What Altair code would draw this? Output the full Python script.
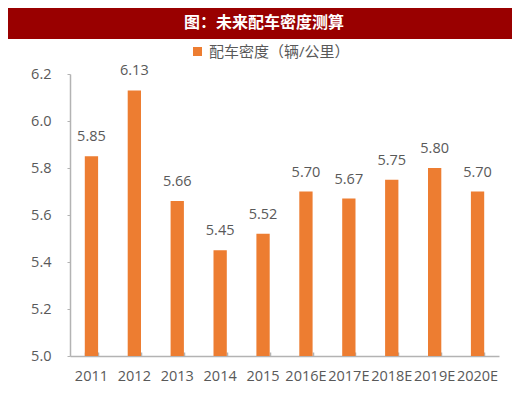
import altair as alt
import pandas as pd

years = ["2011", "2012", "2013", "2014", "2015", "2016E", "2017E", "2018E", "2019E", "2020E"]
values = [5.85, 6.13, 5.66, 5.45, 5.52, 5.70, 5.67, 5.75, 5.80, 5.70]
series_name = "配车密度（辆/公里）"
title_text = "图：未来配车密度测算"
y_ticks = [5.0, 5.2, 5.4, 5.6, 5.8, 6.0, 6.2]

df = pd.DataFrame({"year": years, "value": values, "series": [series_name] * len(years)})

FONT = "Open Sans, Noto Sans CJK SC"
BAR = "#ED7D31"
TXT = "#595959"
AX = "#b3b3b3"

xscale = alt.Scale(paddingInner=0.69, paddingOuter=0.345)
yscale = alt.Scale(domain=[5.0, 6.2], nice=False, zero=False)

x_main = alt.X("year:N", sort=years, scale=xscale, title=None,
               axis=alt.Axis(labelAngle=0, labelFontSize=14.5, labelColor=TXT, labelFont=FONT,
                             domainColor=AX, domainWidth=1.5, ticks=False, labelPadding=13))
y_main = alt.Y("value:Q", scale=yscale, title=None,
               axis=alt.Axis(values=y_ticks, format=".1f", labelFontSize=14.5, labelColor=TXT,
                             labelFont=FONT, domainColor=AX, domainWidth=1.5, tickColor=AX,
                             tickSize=3, labelPadding=16, grid=False))

bars = alt.Chart(df).mark_bar(color=BAR).encode(
    x=x_main,
    y=y_main,
    y2=alt.datum(5.0),
    color=alt.Color("series:N", scale=alt.Scale(range=[BAR]), title=None,
                    legend=alt.Legend(orient="none", legendX=120, legendY=-30,
                                      symbolType="square", symbolSize=81, symbolStrokeWidth=0,
                                      labelFontSize=15, labelColor=TXT, labelFont=FONT,
                                      labelOffset=4)),
)

labels = alt.Chart(df).mark_text(baseline="alphabetic", dy=-15, fontSize=14.5, color=TXT, font=FONT).encode(
    x=alt.X("year:N", sort=years, scale=xscale, title=None,
            axis=alt.Axis(orient="top", offset=-282, labels=False, domain=False,
                          tickSize=4, tickColor=AX, tickWidth=1.5, tickBand="extent")),
    y=alt.Y("value:Q", scale=yscale),
    text=alt.Text("value:Q", format=".2f"),
)

banner = alt.Chart(pd.DataFrame({"t": [title_text]})).mark_rect(color="#990000").encode(
    x=alt.value(-62), x2=alt.value(450), y=alt.value(-66), y2=alt.value(-35)
)
banner_text = alt.Chart(pd.DataFrame({"t": [title_text]})).mark_text(
    color="white", fontSize=16, fontWeight="bold", font="Noto Sans CJK SC", baseline="middle"
).encode(x=alt.value(194), y=alt.value(-51), text="t:N")

chart = alt.layer(bars, labels, banner, banner_text).resolve_axis(x="independent").properties(
    width=429, height=282,
    autosize=alt.AutoSizeParams(type="none"),
    padding={"left": 62, "top": 66, "right": 13, "bottom": 31},
).configure_view(stroke=None)

chart.save("out.html", embed_options={"renderer": "svg", "actions": False})
